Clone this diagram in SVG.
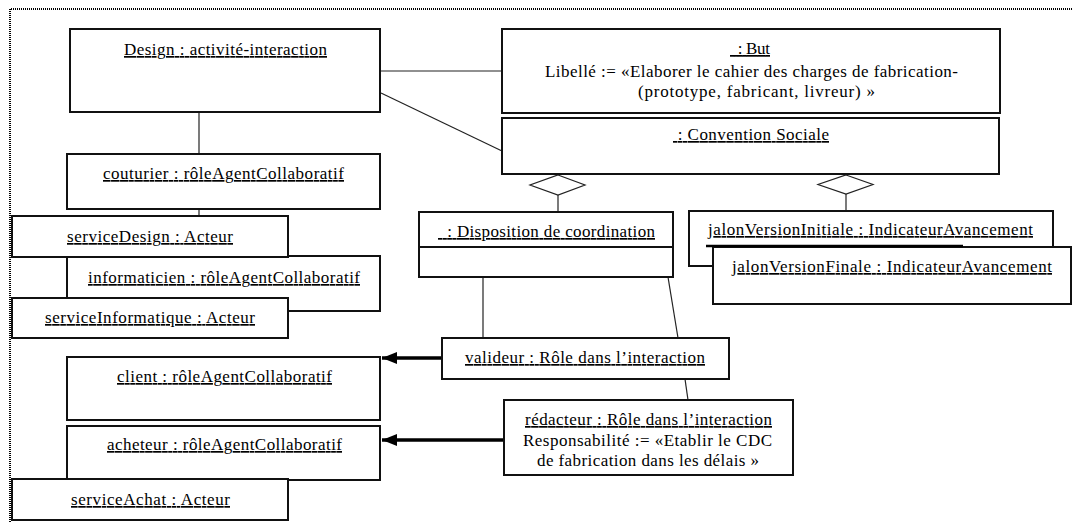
<svg xmlns="http://www.w3.org/2000/svg" width="1073" height="522" viewBox="0 0 1073 522">
  <style>
    .box { fill: #fff; stroke: #111; stroke-width: 2; }
    .link { fill: none; stroke: #222; stroke-width: 1.2; }
    .nav { fill: none; stroke: #000; stroke-width: 3.5; }
    .agg { fill: #fff; stroke: #222; stroke-width: 1.2; }
    .frame { fill: none; stroke: #000; stroke-width: 2; stroke-dasharray: 1 1; }
    .u { text-decoration: underline; }
  </style>
  <defs>
    <marker id="arrow" markerWidth="16" markerHeight="12" refX="15" refY="6" orient="auto" markerUnits="userSpaceOnUse">
      <path d="M0,0 L15,6 L0,12 Z" fill="#000"/>
    </marker>
  </defs>

  <rect width="1073" height="522" fill="#fff"/>
  <path class="frame" d="M10,522 V9 H1072"/>

  <!-- connectors -->
  <g id="connectors">
    <line class="link" x1="381" y1="71" x2="502" y2="71"/>
    <line class="link" x1="381" y1="93" x2="502" y2="151"/>
    <line class="link" x1="199" y1="112" x2="199" y2="154"/>
    <line class="link" x1="199" y1="209" x2="199" y2="216"/>
    <line class="link" x1="67" y1="257" x2="67" y2="298"/>
    <polygon class="agg" points="558,175 585,185 558,195 530,185"/>
    <line class="link" x1="558" y1="195" x2="558" y2="212"/>
    <polygon class="agg" points="846,175 873,184.5 846,194 818,184.5"/>
    <line class="link" x1="846" y1="194" x2="846" y2="211"/>
    <line class="link" x1="483" y1="277" x2="483" y2="338"/>
    <line class="link" x1="668" y1="277" x2="678" y2="338"/>
    <line class="link" x1="685" y1="379" x2="688" y2="400"/>
    <line class="nav" x1="442" y1="358" x2="382" y2="358" marker-end="url(#arrow)"/>
    <line class="nav" x1="504" y1="440" x2="382" y2="440" marker-end="url(#arrow)"/>
  </g>

  <g font-family="'Liberation Serif', 'Times New Roman', serif" font-size="17" text-anchor="middle" fill="#000">
  <g id="design">
    <rect class="box" x="70" y="29" width="310" height="83"/>
    <text class="u" x="225.5" y="55" textLength="203">Design : activité-interaction</text>
  </g>

  <g id="but">
    <rect class="box" x="502" y="29" width="498" height="84"/>
    <text class="u" x="750" y="54" textLength="40" xml:space="preserve">  : But</text>
    <text x="751.5" y="77" textLength="413">Libellé := «Elaborer le cahier des charges de fabrication-</text>
    <text x="756.5" y="97" textLength="237">(prototype, fabricant, livreur) »</text>
  </g>

  <g id="convention">
    <rect class="box" x="502" y="118" width="497" height="56"/>
    <text class="u" x="751" y="140" textLength="156" xml:space="preserve"> : Convention Sociale</text>
  </g>

  <g id="couturier">
    <rect class="box" x="67" y="154" width="313" height="55"/>
    <text class="u" x="223.5" y="179" textLength="241">couturier : rôleAgentCollaboratif</text>
  </g>

  <g id="informaticien">
    <rect class="box" x="67" y="256" width="313" height="55"/>
    <text class="u" x="224" y="283" textLength="272">informaticien : rôleAgentCollaboratif</text>
  </g>

  <g id="serviceDesign">
    <rect class="box" x="12" y="216" width="276" height="41"/>
    <text class="u" x="150" y="242" textLength="166">serviceDesign : Acteur</text>
  </g>

  <g id="serviceInformatique">
    <rect class="box" x="12" y="298" width="276" height="40"/>
    <text class="u" x="150" y="323" textLength="210">serviceInformatique : Acteur</text>
  </g>

  <g id="client">
    <rect class="box" x="67" y="357" width="313" height="63"/>
    <text class="u" x="224.5" y="382" textLength="215">client : rôleAgentCollaboratif</text>
  </g>

  <g id="acheteur">
    <rect class="box" x="67" y="426" width="313" height="54"/>
    <text class="u" x="224.5" y="450" textLength="235">acheteur : rôleAgentCollaboratif</text>
  </g>

  <g id="serviceAchat">
    <rect class="box" x="12" y="479" width="276" height="41"/>
    <text class="u" x="150.5" y="505" textLength="159">serviceAchat : Acteur</text>
  </g>

  <g id="disposition">
    <rect class="box" x="419" y="212" width="254" height="65"/>
    <line class="box" x1="419" y1="247" x2="673" y2="247"/>
    <text class="u" x="546.5" y="237" textLength="217" xml:space="preserve">  : Disposition de coordination</text>
  </g>

  <g id="jalonInitiale">
    <rect class="box" x="689" y="211" width="364" height="55"/>
    <text class="u" x="870.5" y="235" textLength="325">jalonVersionInitiale : IndicateurAvancement</text>
  </g>

  <g id="jalonFinale">
    <rect class="box" x="713" y="247" width="358" height="57"/>
    <line x1="706" y1="246" x2="963" y2="246" stroke="#000" stroke-width="2.5"/>
    <text class="u" x="892" y="272" textLength="320">jalonVersionFinale : IndicateurAvancement</text>
  </g>

  <g id="valideur">
    <rect class="box" x="442" y="338" width="287" height="41"/>
    <text class="u" x="585" y="363" textLength="240">valideur : Rôle dans l’interaction</text>
  </g>

  <g id="redacteur">
    <rect class="box" x="504" y="400" width="289" height="75"/>
    <text class="u" x="648.5" y="425" textLength="247">rédacteur : Rôle dans l’interaction</text>
    <text x="647.5" y="446" textLength="249">Responsabilité := «Etablir le CDC</text>
    <text x="648" y="466" textLength="222">de fabrication dans les délais »</text>
  </g>
  </g>
</svg>
